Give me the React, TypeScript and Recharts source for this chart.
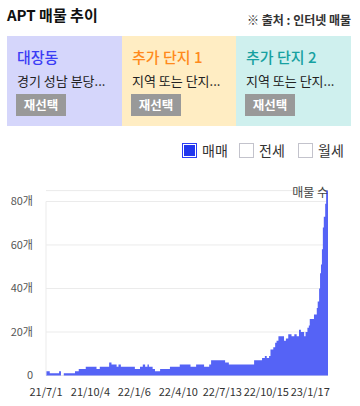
import React from 'react';
import { AreaChart, Area, XAxis, YAxis, CartesianGrid, ReferenceLine } from 'recharts';

// Day offsets from 2021-07-01 where the listing count changes (step starts)
const segmentStartDays = [0, 8, 28, 32, 38, 62, 70, 85, 108, 115, 135, 140, 151, 155, 160, 190, 201, 207, 212, 217, 220, 228, 233, 244, 265, 286, 309, 321, 338, 349, 353, 383, 391, 445, 462, 468, 472, 477, 480, 486, 490, 493, 497, 509, 513, 518, 525, 531, 536, 541, 545, 552, 555, 559, 562, 564, 573, 579, 581, 584, 586, 588, 590, 592, 594, 597, 599, 603];
const listingCounts = [2, 1, 2, 0, 1, 2, 3, 4, 3, 4, 6, 5, 4, 5, 4, 3, 4, 5, 4, 5, 4, 3, 2, 3, 4, 5, 4, 5, 4, 5, 7, 6, 5, 7, 8, 9, 8, 9, 12, 13, 15, 16, 18, 16, 17, 19, 18, 19, 18, 21, 20, 18, 20, 22, 23, 26, 28, 31, 34, 40, 47, 51, 58, 68, 73, 79, 85, 85];

const tickDays = [0, 95, 189, 283, 377, 471, 565];
const tickLabels = ['21/7/1', '21/10/4', '22/1/6', '22/4/10', '22/7/13', '22/10/15', '23/1/17'];
const yTicks = [0, 20, 40, 60, 80];

const cards = [
  { title: '대장동', sub: '경기 성남 분당...', bg: '#d5d6fb', color: '#3b3df5' },
  { title: '추가 단지 1', sub: '지역 또는 단지...', bg: '#ffedc3', color: '#ff8a1c' },
  { title: '추가 단지 2', sub: '지역 또는 단지...', bg: '#cff0ee', color: '#17a1a1' },
];
const legendItems = ['매매', '전세', '월세'];

const data = segmentStartDays.map((d, i) => ({ day: d, count: listingCounts[i] }));

const FONT = '"Noto Sans CJK KR", "Noto Sans", sans-serif';

export default function App() {
  const cardLefts = [7, 122, 236];
  const cardWidths = [115, 114, 115];
  const legendLefts = [182, 239, 298];
  return (
    <div style={{ position: 'absolute', left: 0, top: 0, width: 360, height: 406, fontFamily: FONT, overflow: 'hidden', background: '#fff' }}>
      <div style={{ position: 'absolute', left: 7, top: 6, fontSize: 15, lineHeight: '18px', fontWeight: 'bold', color: '#111' }}>APT 매물 추이</div>
      <div style={{ position: 'absolute', left: 247, top: 13, fontSize: 12, lineHeight: '14px', fontWeight: 'bold', color: '#333', whiteSpace: 'nowrap' }}>※ 출처 : 인터넷 매물</div>

      {cards.map((c, i) => (
        <div key={i} style={{ position: 'absolute', left: cardLefts[i], top: 36, width: cardWidths[i], height: 90, background: c.bg }}>
          <div style={{ position: 'absolute', left: 10, top: 11.5, fontSize: 15, lineHeight: '18px', color: c.color, fontWeight: 500, whiteSpace: 'nowrap' }}>{c.title}</div>
          <div style={{ position: 'absolute', left: 10, top: 37, fontSize: 13, lineHeight: '16px', color: '#222', whiteSpace: 'nowrap' }}>{c.sub}</div>
          <div style={{ position: 'absolute', left: 9, top: 58, width: 50, height: 22, background: '#999', color: '#fff', fontSize: 12.5, fontWeight: 'bold', lineHeight: '22px', textAlign: 'center' }}>재선택</div>
        </div>
      ))}

      {legendItems.map((t, i) => (
        <React.Fragment key={t}>
          <div style={{
            position: 'absolute', left: legendLefts[i], top: 143, width: 15, height: 15, boxSizing: 'border-box',
            border: i === 0 ? '1.5px solid #2a3df5' : '1px solid #c3c3cc',
            background: i === 0 ? '#2036ee' : '#fff',
            boxShadow: i === 0 ? 'inset 0 0 0 1px #fff' : 'none',
          }} />
          <div style={{ position: 'absolute', left: legendLefts[i] + 20, top: 142, fontSize: 14, lineHeight: '17px', color: '#333' }}>{t}</div>
        </React.Fragment>
      ))}

      <div style={{ position: 'absolute', left: 0, top: 170 }}>
        <AreaChart width={360} height={236} data={data} margin={{ top: 20.6, right: 32, bottom: 0, left: 0 }}>
          <CartesianGrid horizontal={true} vertical={false} stroke="#ebebeb" />
          <XAxis
            dataKey="day"
            type="number"
            domain={[0, 603]}
            ticks={tickDays}
            interval={0}
            tickFormatter={(v: number) => tickLabels[tickDays.indexOf(v)] ?? ''}
            axisLine={false}
            tickLine={false}
            tickSize={0}
            tickMargin={13}
            height={30.5}
            tick={{ fontSize: 11, fill: '#333', fontFamily: FONT }}
          />
          <YAxis
            type="number"
            domain={[0, 85]}
            ticks={yTicks}
            interval={0}
            width={46}
            axisLine={false}
            tickLine={false}
            tickSize={0}
            tickMargin={13}
            tickFormatter={(v: number) => (v === 0 ? '0' : `${v}개`)}
            tick={{ fontSize: 11, fill: '#555', fontFamily: FONT }}
          />
          <ReferenceLine segment={[{ x: 0, y: 0 }, { x: 0, y: 80 }]} stroke="#ebebeb" />
          <Area
            type="stepAfter"
            dataKey="count"
            stroke="#5563f6"
            strokeWidth={0}
            fill="#5563f6"
            fillOpacity={1}
            isAnimationActive={false}
            dot={false}
            activeDot={false}
          />
        </AreaChart>
      </div>
      <div style={{ position: 'absolute', left: 270, width: 58, top: 184, fontSize: 12, lineHeight: '15px', color: '#444', textAlign: 'right', whiteSpace: 'nowrap' }}>매물 수</div>
    </div>
  );
}
